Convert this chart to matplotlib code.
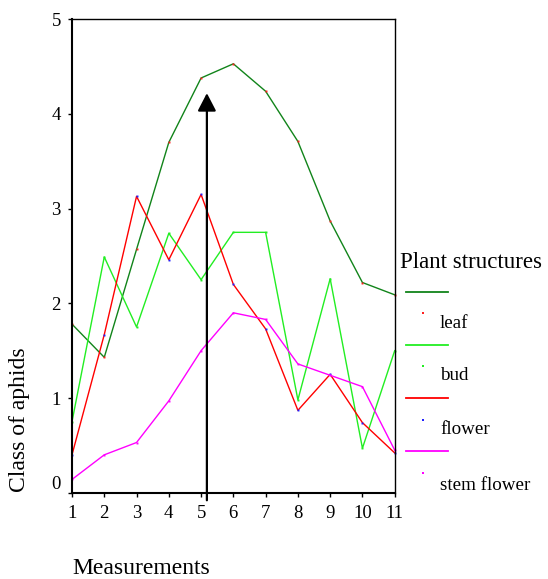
import matplotlib
matplotlib.use("Agg")
import matplotlib.pyplot as plt
from matplotlib.lines import Line2D

plt.rcParams['font.family'] = ['Liberation Serif', 'DejaVu Serif']

measurements = [1, 2, 3, 4, 5, 6, 7, 8, 9, 10, 11]
leaf = [1.78, 1.43, 2.57, 3.70, 4.38, 4.53, 4.24, 3.71, 2.87, 2.22, 2.09]
bud = [0.75, 2.49, 1.75, 2.74, 2.25, 2.75, 2.75, 0.98, 2.26, 0.47, 1.50]
flower = [0.40, 1.67, 3.13, 2.46, 3.15, 2.20, 1.73, 0.87, 1.25, 0.74, 0.42]
stem_flower = [0.14, 0.40, 0.53, 0.97, 1.50, 1.90, 1.83, 1.36, 1.24, 1.12, 0.45]
series_labels = ['leaf', 'bud', 'flower', 'stem flower']
line_colors = ['#11841a', '#22ee22', '#ff0000', '#ff00ff']
dot_colors = ['#ff2020', '#22ee22', '#2020ff', '#ff00ff']
arrow_x = 5.18
arrow_y0, arrow_y1 = -0.08, 4.22
legend_title = 'Plant structures'

W, H = 548, 579
fig = plt.figure(figsize=(W / 100, H / 100), dpi=100)
ax = fig.add_axes([72 / W, 1 - 492.7 / H, (394.7 - 72) / W, (492.7 - 19.3) / H])

for vals, lc, dc in zip([leaf, bud, flower, stem_flower], line_colors, dot_colors):
    ax.plot(measurements, vals, color=lc, lw=1.0, marker='s', markersize=1.4,
            markerfacecolor=dc, markeredgecolor=dc, markeredgewidth=0, clip_on=False)

ax.annotate('', xy=(arrow_x, arrow_y1), xytext=(arrow_x, arrow_y0),
            arrowprops=dict(arrowstyle='-|>,head_length=1.08,head_width=0.56',
                            lw=1.6, color='black', shrinkA=0, shrinkB=0),
            annotation_clip=False)

ax.set_xlim(1, 11)
ax.set_ylim(0, 5)
ax.set_xticks(measurements)
ax.set_yticks([0, 1, 2, 3, 4, 5])
ax.tick_params(direction='out', length=3, width=1.0, labelsize=13.5, colors='black')
ax.tick_params(axis='x', pad=6)
ax.tick_params(axis='y', pad=5)
for s in ['left', 'bottom']:
    ax.spines[s].set_linewidth(1.5)
for s in ['top', 'right']:
    ax.spines[s].set_linewidth(1.0)
ax.get_yticklabels()[0].set_va('bottom')

fig.text(20 / W, 1 - 420 / H, 'Class of aphids', rotation=90, ha='center',
         va='center', fontsize=17)
fig.text(72.5 / W, 1 - 568 / H, 'Measurements', ha='left', va='center',
         fontsize=17)

# legend
fig.text(400.5 / W, 1 - 263 / H, legend_title, ha='left', va='center', fontsize=16.5)
line_y = [291.5, 344.5, 397.5, 451.3]
dot_y = [313.3, 366, 420, 473.3]
lab_y = [323.3, 376, 430, 485]
for i in range(4):
    fig.add_artist(Line2D([406 / W, 448.3 / W], [1 - line_y[i] / H] * 2,
                          transform=fig.transFigure, color=line_colors[i], lw=1.3))
    fig.add_artist(Line2D([422.7 / W], [1 - dot_y[i] / H], transform=fig.transFigure,
                          marker='s', markersize=1.5, markeredgewidth=0,
                          markerfacecolor=dot_colors[i], linestyle='none'))
    fig.text(440 / W, 1 - lab_y[i] / H, series_labels[i], ha='left', va='center',
             fontsize=13.7)

fig.savefig('out.png', dpi=100)
